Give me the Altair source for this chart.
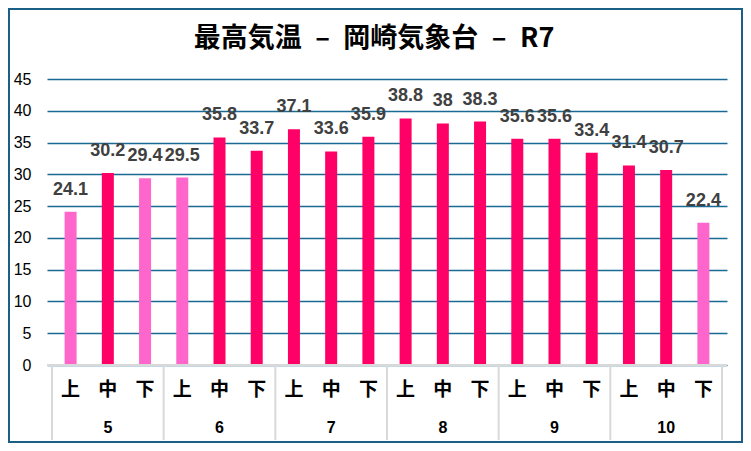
import altair as alt
import pandas as pd

months = ["5", "6", "7", "8", "9", "10"]
periods = ["上", "中", "下"]
values = [24.1, 30.2, 29.4, 29.5, 35.8, 33.7, 37.1, 33.6, 35.9,
          38.8, 38.0, 38.3, 35.6, 35.6, 33.4, 31.4, 30.7, 22.4]
y_ticks = [0, 5, 10, 15, 20, 25, 30, 35, 40, 45]
title_text = "最高気温\u2002–\u2002岡崎気象台\u2002–\u2002R7"

W, H = 680, 286
CJK = "Noto Sans CJK JP"

rows = []
for i, v in enumerate(values):
    rows.append({"idx": i, "month": months[i // 3], "period": periods[i % 3],
                 "v": v, "label": f"{v:g}"})
df = pd.DataFrame(rows)

mdf = pd.DataFrame({"month": months, "mid": [g * 3 + 1 for g in range(len(months))]})
ddf = pd.DataFrame({"b": [g * 3 - 0.5 for g in range(len(months) + 1)]})

xs = alt.Scale(domain=[-0.5, len(values) - 0.5], nice=False, zero=False)
ys = alt.Scale(domain=[0, 45], nice=False)

yaxis = alt.Axis(values=y_ticks, grid=True, gridColor="#1B6A94", gridWidth=1.3,
                 domain=False, ticks=False, labelFont="Liberation Sans", labelFontSize=16,
                 labelColor="#000000", labelPadding=16, labelOverlap=False)

base = alt.Chart(df)

bars = base.mark_bar(size=12).encode(
    x=alt.X("idx:Q", scale=xs, axis=None),
    y=alt.Y("v:Q", scale=ys, title=None, axis=yaxis),
    color=alt.condition(alt.datum.v < 30, alt.value("#FF66CC"), alt.value("#FF0066")),
)

labels = base.mark_text(font="Liberation Sans", fontSize=18, fontWeight="bold",
                        color="#404040", dy=-22, baseline="middle").encode(
    x=alt.X("idx:Q", scale=xs, axis=None),
    y=alt.Y("v:Q", scale=ys, title=None, axis=yaxis),
    text="label:N")

zero = alt.Chart(pd.DataFrame({"z": [0]})).mark_rule(color="#D9D9D9", strokeWidth=2).encode(
    y=alt.Y("z:Q", scale=ys, title=None, axis=yaxis))

plabels = base.mark_text(font=CJK, fontSize=19, fontWeight="bold", color="#000000",
                         baseline="middle").encode(
    x=alt.X("idx:Q", scale=xs, axis=None), y=alt.value(H + 25), text="period:N")

mlabels = alt.Chart(mdf).mark_text(font="Liberation Sans", fontSize=16, fontWeight="bold",
                                   color="#000000", baseline="middle").encode(
    x=alt.X("mid:Q", scale=xs, axis=None), y=alt.value(H + 63), text="month:N")

dividers = alt.Chart(ddf).mark_rule(color="#D9D9D9", strokeWidth=2).encode(
    x=alt.X("b:Q", scale=xs, axis=None), y=alt.value(H), y2=alt.value(H + 75))

title = alt.Chart(pd.DataFrame({"t": [title_text]})).mark_text(
    font=CJK, fontSize=27, fontWeight="bold", color="#000000", baseline="middle").encode(
    x=alt.value(327), y=alt.value(-40), text="t:N")

border = alt.Chart(pd.DataFrame({"a": [0]})).mark_rect(
    fill="transparent", stroke="#1B5E86", strokeWidth=2).encode(
    x=alt.value(-38), x2=alt.value(W + 15), y=alt.value(-70), y2=alt.value(H + 77))

chart = alt.layer(bars, zero, labels, plabels, mlabels, dividers, title, border).properties(
    width=W, height=H,
    autosize=alt.AutoSizeParams(type="none"),
    padding={"left": 39, "top": 71, "right": 16, "bottom": 78},
    background="#FFFFFF",
).configure_view(stroke=None)

chart.save("out.html", embed_options={"renderer": "svg", "actions": False})
